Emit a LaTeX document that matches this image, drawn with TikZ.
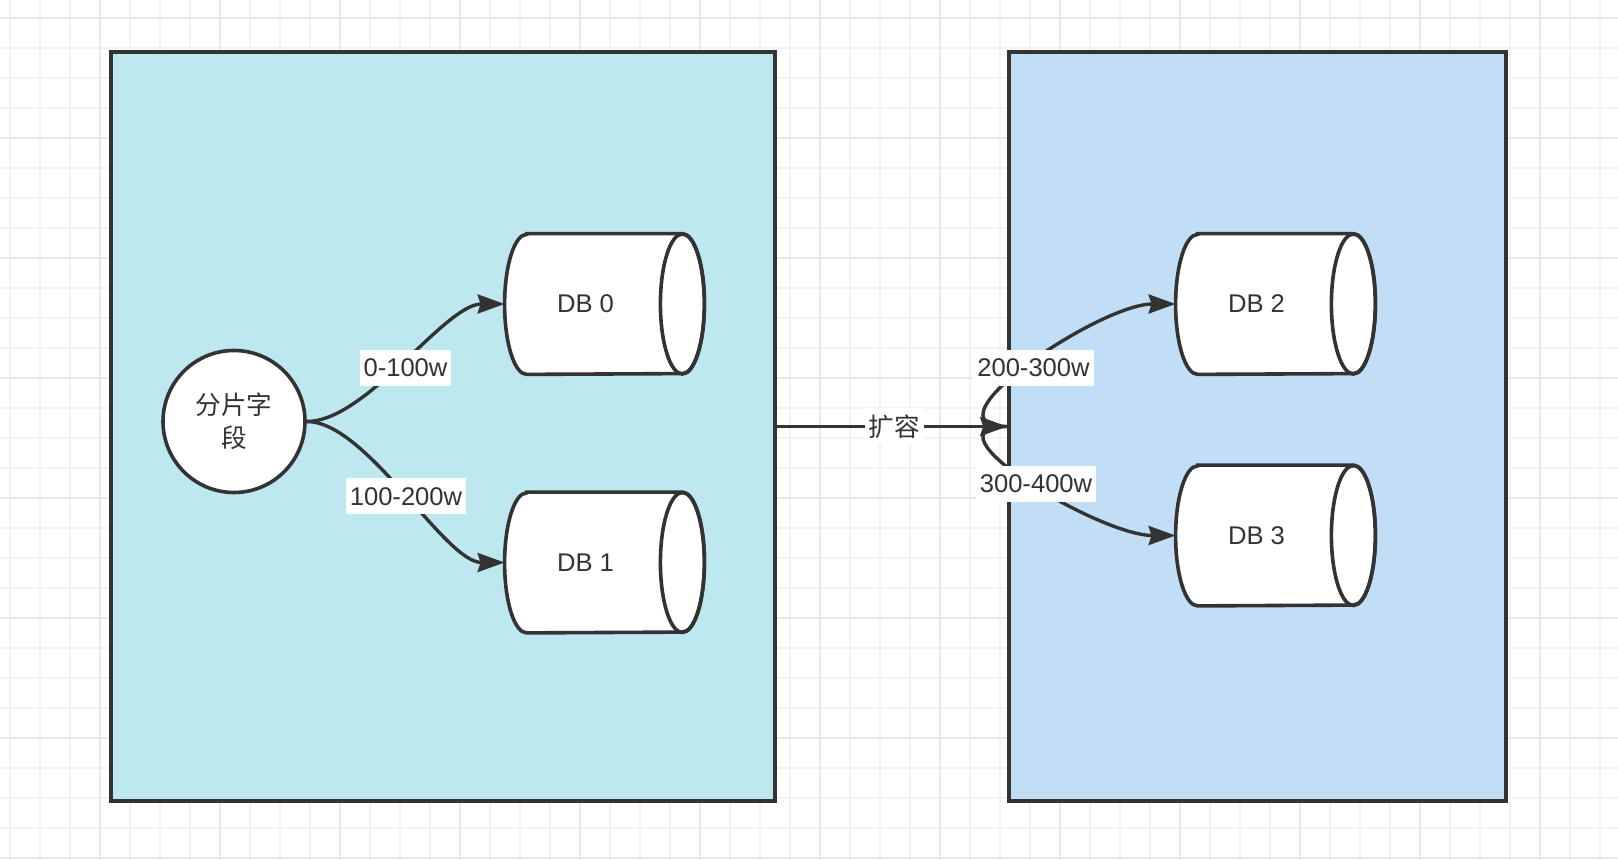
\documentclass[tikz,border=0pt]{standalone}
\usepackage{fontspec}
\setmainfont{Liberation Sans}
\newfontfamily\cjk{Noto Sans CJK SC}
\usetikzlibrary{arrows.meta}
\pgfdeclarelayer{bg}
\pgfsetlayers{bg,main}
\definecolor{ink}{RGB}{51,51,51}
\definecolor{leftfill}{RGB}{189,232,239}
\definecolor{rightfill}{RGB}{193,222,246}
\definecolor{gridminor}{RGB}{243,243,243}
\definecolor{gridmajor}{RGB}{233,233,233}
\begin{document}
\begin{tikzpicture}[x=0.5pt,y=-0.5pt,
  txt/.style={text=ink, font=\fontsize{12.8}{16.5}\selectfont},
  bigbox/.style={draw=ink, line width=1.8pt, inner sep=0pt},
  dbbody/.style={txt, minimum width=77.5pt, minimum height=70pt, inner sep=0pt, execute at begin node=\hspace*{3pt}},
  cylline/.style={draw=ink, line width=1.8pt},
  srcnode/.style={txt, circle, draw=ink, fill=white, line width=1.8pt, minimum size=71pt, inner sep=0pt, align=center},
  edge/.style={draw=ink, line width=1.7pt, -{Stealth[length=13.5pt,width=9.5pt,inset=1.5pt]}},
  lbl/.style={txt, fill=white, inner xsep=2pt, inner ysep=0pt, minimum height=18pt}]
\useasboundingbox (0,0) rectangle (1618,860);
\begin{pgfonlayer}{bg}
  \fill[white] (0,0) rectangle (1618,860);
  \foreach \i in {0,...,53} \draw[gridminor, line width=0.6pt] ({10+30*\i},0) -- ({10+30*\i},860);
  \foreach \j in {0,...,28} \draw[gridminor, line width=0.6pt] (0,{18+30*\j}) -- (1618,{18+30*\j});
  \foreach \i in {0,...,12} \draw[gridmajor, line width=0.6pt] ({100+120*\i},0) -- ({100+120*\i},860);
  \foreach \j in {0,...,7} \draw[gridmajor, line width=0.6pt] (0,{18+120*\j}) -- (1618,{18+120*\j});
  \node[bigbox, fill=leftfill, minimum width=332pt, minimum height=374.5pt] (lbox) at (443,426.5) {};
  \node[bigbox, fill=rightfill, minimum width=248.5pt, minimum height=374.5pt] (rbox) at (1257.5,426.5) {};
\end{pgfonlayer}

\node[dbbody] (db0) at (582.5,304) {DB 0};
\node[dbbody] (db1) at (582.5,562.5) {DB 1};
\node[dbbody] (db2) at (1253.5,304) {DB 2};
\node[dbbody] (db3) at (1253.5,535.5) {DB 3};

\begin{pgfonlayer}{bg}
  \foreach \n in {db0,db1,db2,db3}{
    \filldraw[cylline, fill=white] ([xshift=11pt]\n.north west) -- ([xshift=11pt]\n.north east)
      arc[start angle=90, end angle=-90, x radius=11pt, y radius=35pt]
      -- ([xshift=11pt]\n.south west)
      arc[start angle=270, end angle=90, x radius=11pt, y radius=35pt] -- cycle;
    \draw[cylline] ([xshift=11pt]\n.east) ellipse[x radius=11pt, y radius=35pt];
  }
\end{pgfonlayer}

\node[srcnode] (src) at (234,421.5) {\cjk 分片字\\\cjk 段};

\draw[edge] (src.east) .. controls +(60,0) and +(-60,0) .. (db0.west);
\draw[edge] (src.east) .. controls +(60,0) and +(-60,0) .. (db1.west);
\draw[edge] (lbox.east) -- node[lbl, pos=0.51] (lx) {\cjk 扩容} (rbox.west);
\draw[edge] (rbox.west) .. controls +(-89,0) and +(-77,0) .. (db2.west);
\draw[edge] (rbox.west) .. controls +(-89,0) and +(-77,0) .. (db3.west);

\node[lbl] (l0) at (405.5,368) {0-100w};
\node[lbl] (l1) at (406,496.5) {100-200w};
\node[lbl] (l2) at (1033.5,368) {200-300w};
\node[lbl] (l3) at (1036,484) {300-400w};
\end{tikzpicture}
\end{document}
